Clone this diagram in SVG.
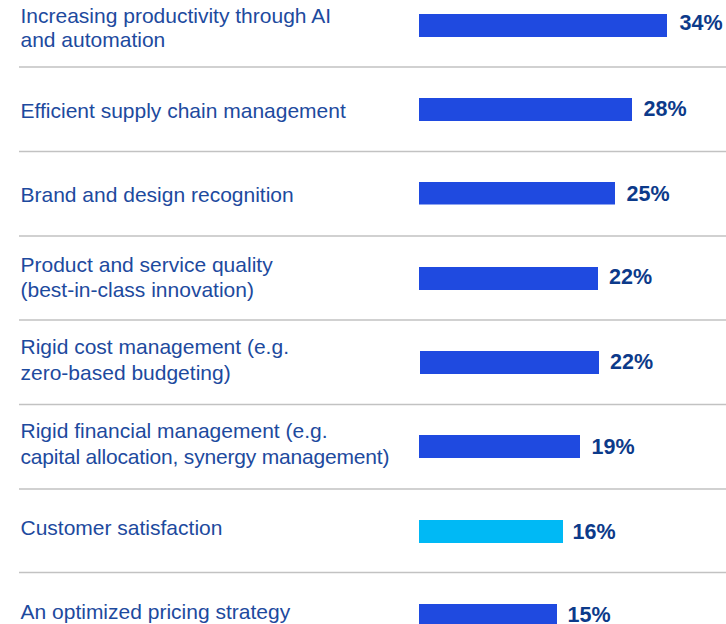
<svg xmlns="http://www.w3.org/2000/svg" width="726" height="624" viewBox="0 0 726 624">
<style>
.lbl{font-family:"Liberation Sans",Arial,sans-serif;font-size:21px;fill:#1D4A9E;}
.val{font-family:"Liberation Sans",Arial,sans-serif;font-size:21.5px;font-weight:bold;fill:#0C3A8A;}
.bar{fill:#1F4AE0;}
.bar.hl{fill:#00B9F5;}
.sep{stroke:#C2C2C2;stroke-width:1.6;}
</style>
<rect width="726" height="624" fill="#FFFFFF"/>
<g id="separators">
<line class="sep" x1="19" y1="67" x2="726" y2="67"/>
<line class="sep" x1="19" y1="151.5" x2="726" y2="151.5"/>
<line class="sep" x1="19" y1="236" x2="726" y2="236"/>
<line class="sep" x1="19" y1="320" x2="726" y2="320"/>
<line class="sep" x1="19" y1="404.5" x2="726" y2="404.5"/>
<line class="sep" x1="19" y1="489" x2="726" y2="489"/>
<line class="sep" x1="19" y1="572.5" x2="726" y2="572.5"/>
</g>
<g id="row1">
<text class="lbl" x="20.5" y="22.5">Increasing productivity through AI</text>
<text class="lbl" x="20.5" y="46.5">and automation</text>
<rect class="bar" x="419" y="14" width="248" height="23"/>
<text class="val" x="679.5" y="30">34%</text>
</g>
<g id="row2">
<text class="lbl" x="20.5" y="117.5">Efficient supply chain management</text>
<rect class="bar" x="419" y="98" width="213" height="23"/>
<text class="val" x="643.5" y="115.7">28%</text>
</g>
<g id="row3">
<text class="lbl" x="20.5" y="201.5">Brand and design recognition</text>
<rect class="bar" x="419" y="182" width="196" height="22.5"/>
<text class="val" x="626.5" y="201">25%</text>
</g>
<g id="row4">
<text class="lbl" x="20.5" y="272">Product and service quality</text>
<text class="lbl" x="20.5" y="297">(best-in-class innovation)</text>
<rect class="bar" x="419" y="267" width="179" height="23"/>
<text class="val" x="609" y="284">22%</text>
</g>
<g id="row5">
<text class="lbl" x="20.5" y="353.5">Rigid cost management (e.g.</text>
<text class="lbl" x="20.5" y="379.5">zero-based budgeting)</text>
<rect class="bar" x="420" y="351" width="179" height="23"/>
<text class="val" x="610" y="369.3">22%</text>
</g>
<g id="row6">
<text class="lbl" x="20.5" y="437.5">Rigid financial management (e.g.</text>
<text class="lbl" x="20.5" y="464" textLength="369" lengthAdjust="spacing">capital allocation, synergy management)</text>
<rect class="bar" x="419" y="435" width="161" height="23"/>
<text class="val" x="591.5" y="454">19%</text>
</g>
<g id="row7">
<text class="lbl" x="20.5" y="535">Customer satisfaction</text>
<rect class="bar hl" x="419" y="520" width="144" height="23"/>
<text class="val" x="572.5" y="539">16%</text>
</g>
<g id="row8">
<text class="lbl" x="20.5" y="618.5">An optimized pricing strategy</text>
<rect class="bar" x="419" y="604" width="138" height="20"/>
<text class="val" x="567.5" y="621.7">15%</text>
</g>
</svg>
